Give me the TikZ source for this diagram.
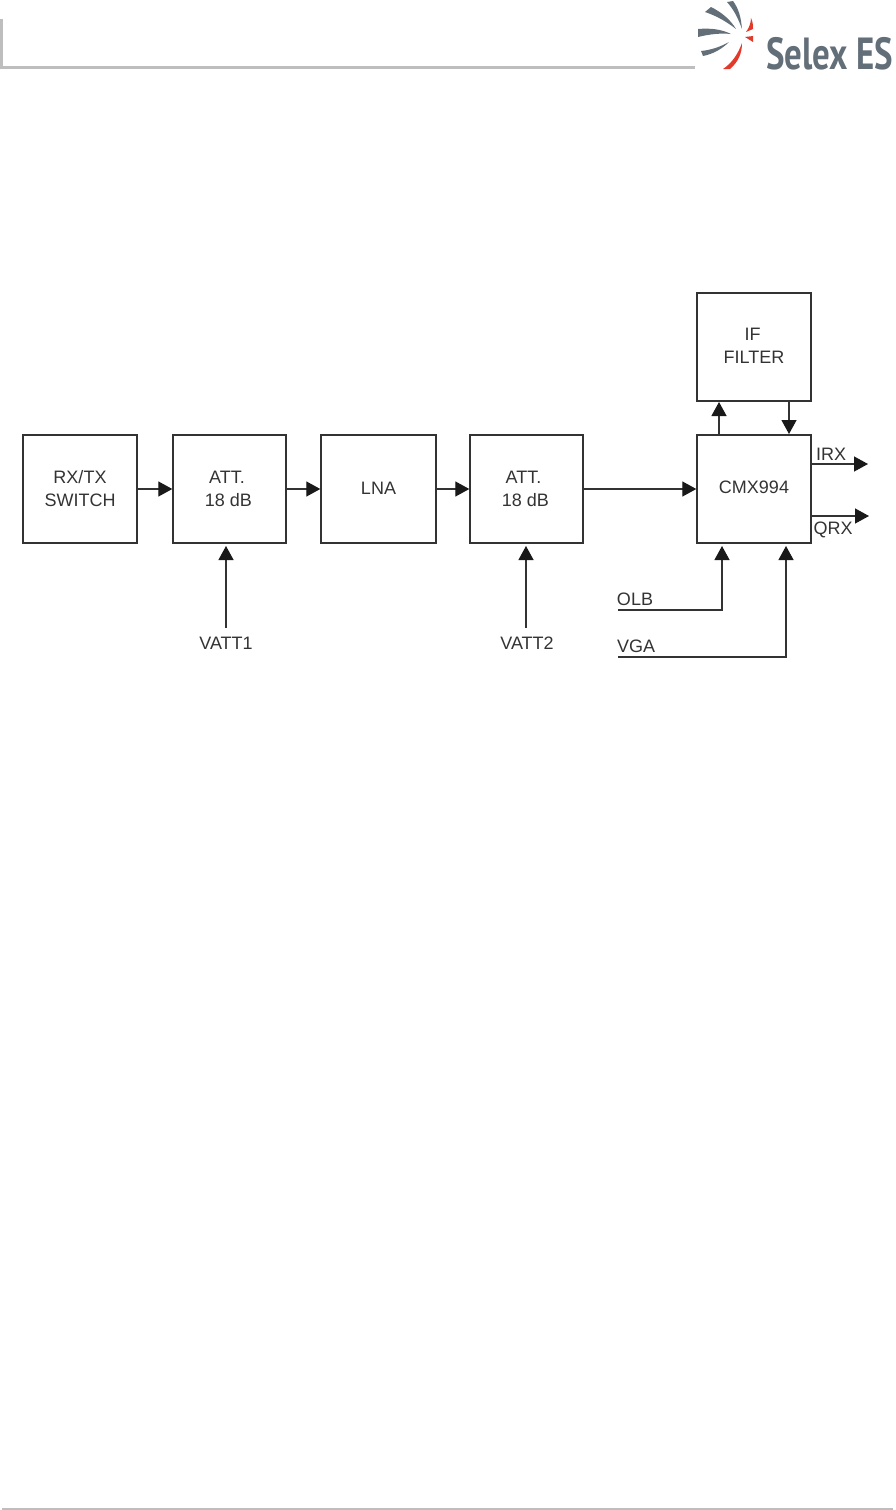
\documentclass[tikz,border=0pt]{standalone}
\usepackage{fontspec}
\setmainfont{Liberation Sans}
\newfontfamily\logofont{PT Sans Bold}
\usetikzlibrary{arrows.meta}
\definecolor{ink}{HTML}{333333}
\definecolor{rule}{HTML}{BEBEBE}
\definecolor{logogrey}{HTML}{626E78}
\definecolor{logored}{HTML}{E2392B}
\tikzset{
  x=1pt,y=-1pt,
  box/.style={draw=ink,line width=1.4pt,rectangle,inner sep=0pt,align=center,text=ink,font=\fontsize{18}{23}\selectfont},
  lab/.style={inner sep=0pt,text=ink,font=\fontsize{18}{22}\selectfont},
  wire/.style={draw=ink,line width=1.3pt},
  arr/.style={wire,-{Triangle[length=14pt,width=15pt,color=black!90]}},
}
\begin{document}
\begin{tikzpicture}
\useasboundingbox (0,0) rectangle (896,1510);
% page furniture
\fill[rule] (0,19) rectangle (3,69);
\fill[rule] (0,66) rectangle (695,69);
\fill[rule] (2,1508) rectangle (893,1510);
% logo
\fill[logogrey] (727,2) -- (733,1) .. controls (739,9) and (741,18) .. (742,29) .. controls (738,18) and (734,10) .. cycle;
\fill[logogrey] (705,12) -- (711,7) .. controls (721,12) and (730,19) .. (736,29) .. controls (727,22) and (717,16) .. cycle;
\fill[logogrey] (698,29) .. controls (710,28) and (721,29) .. (731,34) .. controls (721,33) and (710,34) .. (698,37) -- cycle;
\fill[logogrey] (701,51) .. controls (711,50) and (720,47) .. (729,42) .. controls (722,49) and (713,54) .. (703,56) -- cycle;
\fill[logored] (723,69) .. controls (732,63) and (738,54) .. (742,43) .. controls (742,54) and (738,62) .. (730,69) -- cycle;
\fill[logored] (745,37) -- (753,36) -- (753,42) -- cycle;
\fill[logored] (746,32) .. controls (749,28) and (751,23) .. (751,18) .. controls (753,22) and (753,26) .. (753,29) -- cycle;
\node[anchor=base west,inner sep=0pt,text=logogrey] (logo) at (766,69) {\logofont\fontsize{45}{45}\selectfont\addfontfeature{FakeStretch=0.775}Selex ES};
% blocks
\node[box,minimum width=114pt,minimum height=108pt] (rx) at (80,489) {RX/TX\\SWITCH};
\node[box,minimum width=113pt,minimum height=108pt] (att1) at (229.5,489) {\kern-5pt ATT.\\\kern-2pt 18 dB};
\node[box,minimum width=115pt,minimum height=108pt] (lna) at (378.5,489) {\raisebox{1pt}{LNA}};
\node[box,minimum width=113pt,minimum height=108pt] (att2) at (526.5,489) {\kern-6pt ATT.\\\kern-2pt 18 dB};
\node[box,minimum width=114pt,minimum height=108pt] (cmx) at (754,489) {\raisebox{3pt}{CMX994}};
\node[box,minimum width=114pt,minimum height=108pt] (if) at (754,347) {\raisebox{2pt}{\kern-3pt IF}\\\raisebox{2pt}{FILTER}};
% labels
\node[lab] (irx) at (831,454) {IRX};
\node[lab] (qrx) at (833,530) {QRX};
\node[lab] (olb) at (635,599) {OLB};
\node[lab] (vga) at (636,646) {VGA};
\node[lab] (vatt1) at (226,643) {VATT1};
\node[lab] (vatt2) at (527,643) {VATT2};
% free ends
\coordinate (a1) at (226,546); \coordinate (a1s) at (226,628);
\coordinate (a2) at (526,546); \coordinate (a2s) at (526,628);
\coordinate (olbS) at (618,610); \coordinate (olbE) at (722,546);
\coordinate (vgaS) at (618,657); \coordinate (vgaE) at (786,546);
\coordinate (ifUp) at (719,402); \coordinate (ifDn) at (789,434);
\coordinate (irxE) at (868,464); \coordinate (qrxE) at (869,516);
% connectors
\draw[arr] (rx) -- (att1);
\draw[arr] (att1) -- (lna);
\draw[arr] (lna) -- (att2);
\draw[arr] (att2) -- (cmx);
\draw[arr] (a1s) -- (a1);
\draw[arr] (a2s) -- (a2);
\draw[arr] (cmx.north -| ifUp) -- (ifUp);
\draw[arr] (if.south -| ifDn) -- (ifDn);
\draw[arr] (cmx.east |- irxE) -- (irxE);
\draw[arr] (cmx.east |- qrxE) -- (qrxE);
\draw[arr] (olbS) -| (olbE);
\draw[arr] (vgaS) -| (vgaE);
\end{tikzpicture}
\end{document}
